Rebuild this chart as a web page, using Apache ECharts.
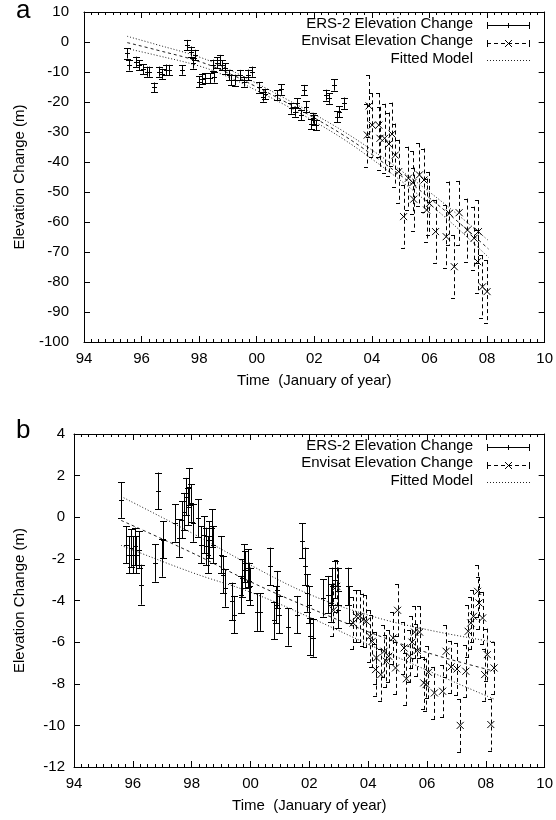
<!DOCTYPE html>
<html><head><meta charset="utf-8">
<script src="https://cdn.jsdelivr.net/npm/echarts@6/dist/echarts.min.js"></script>
<style>html,body{margin:0;padding:0;background:#fff}#c{width:556px;height:820px}</style>
</head><body><div id="c"></div>
<script>
// ---------- Panel a data ----------
const ersA_t = [1995.49,1995.58,1995.81,1995.90,1996.04,1996.18,1996.27,1996.44,1996.59,1996.70,1996.84,1996.96,1997.42,1997.59,1997.70,1997.80,1997.85,1997.99,1998.10,1998.22,1998.36,1998.47,1998.51,1998.62,1998.71,1998.79,1998.89,1999.02,1999.12,1999.25,1999.43,1999.54,1999.69,1999.83,2000.08,2000.23,2000.29,2000.69,2000.84,2001.20,2001.32,2001.41,2001.52,2001.64,2001.72,2001.89,2001.95,2002.00,2002.06,2002.40,2002.52,2002.67,2002.80,2002.86,2003.03];
const ersA_v = [-3.8,-7.7,-6.6,-7.7,-9.1,-9.9,-9.9,-15.1,-9.9,-10.6,-9.3,-9.3,-9.3,-1.0,-3.2,-7.1,-4.3,-13.2,-12.4,-12.1,-12.1,-7.7,-11.8,-6.9,-6.0,-7.7,-8.8,-11.0,-12.7,-12.7,-11.0,-13.2,-11.0,-9.9,-15.1,-18.2,-17.3,-17.7,-15.8,-22.1,-23.2,-20.4,-24.3,-16.0,-21.6,-27.3,-25.4,-26.0,-27.7,-17.7,-18.8,-14.3,-24.9,-23.2,-20.4];
const ersA_e = [1.7,1.8,1.7,1.7,1.7,1.7,1.7,1.6,1.7,1.7,1.8,1.7,1.6,1.7,1.7,1.8,1.7,1.8,1.7,1.7,1.7,1.8,1.7,1.8,1.7,1.7,1.8,1.7,1.7,1.8,1.7,1.7,1.8,1.7,1.8,1.7,1.7,1.7,1.8,1.8,1.7,1.7,1.8,1.7,1.8,1.7,1.8,1.7,1.7,1.8,1.8,1.9,1.8,1.8,1.9];
const envA_t = [2003.84,2003.90,2004.01,2004.24,2004.28,2004.44,2004.59,2004.70,2004.81,2004.93,2005.10,2005.27,2005.42,2005.45,2005.65,2005.81,2005.90,2006.00,2006.21,2006.58,2006.69,2006.86,2007.03,2007.32,2007.55,2007.67,2007.70,2007.84,2008.00];
const envA_v = [-31.0,-21.3,-27.7,-27.7,-32.1,-32.1,-34.0,-30.7,-37.7,-43.2,-58.2,-45.4,-46.9,-52.4,-44.3,-46.0,-56.0,-53.8,-63.2,-64.9,-57.1,-74.9,-56.9,-62.7,-65.4,-73.2,-63.2,-81.6,-83.2];
const envA_e = [10.5,10.3,10.6,10.6,10.5,11.5,10.5,10.5,10.5,10.6,10.6,10.5,10.5,10.5,10.5,10.5,10.5,10.5,10.6,10.5,10.6,10.5,10.6,10.5,10.5,10.5,10.5,10.5,10.5];
const fitA_t = [1995.5,1996.5,1998,1999,2000,2001,2002,2003,2004,2005,2006,2007,2008.05];
const fitA_top = [1.9,-0.8,-5.0,-9.0,-13.8,-18.9,-24.1,-29.7,-36.0,-42.8,-50.0,-57.7,-66.2];
const fitA_mid = [-0.2,-2.6,-6.5,-10.3,-15.0,-20.0,-25.3,-31.0,-37.5,-44.5,-52.0,-60.0,-69.0];
const fitA_bot = [-2.2,-4.4,-8.0,-11.6,-16.2,-21.1,-26.5,-32.3,-39.0,-46.2,-54.0,-62.3,-71.8];

// ---------- Panel b data ----------
const ersB_t = [1995.61,1995.78,1995.87,1995.95,1996.00,1996.09,1996.12,1996.20,1996.29,1996.77,1996.85,1997.00,1997.02,1997.45,1997.58,1997.67,1997.75,1997.81,1997.86,1997.90,1997.98,1998.03,1998.20,1998.31,1998.43,1998.48,1998.54,1998.59,1998.69,1998.73,1998.99,1999.07,1999.14,1999.38,1999.44,1999.67,1999.72,1999.78,1999.83,1999.92,1999.95,2000.00,2000.23,2000.31,2000.68,2000.79,2000.85,2000.90,2000.96,2001.27,2001.58,2001.75,2001.84,2001.93,2001.98,2002.03,2002.14,2002.48,2002.65,2002.72,2002.76,2002.87,2002.96,2002.99,2003.32,2003.36];
const ersB_v = [0.83,-1.32,-1.80,-1.48,-1.80,-1.40,-1.80,-1.56,-3.24,-2.20,1.27,-1.96,-1.08,-0.28,-1.00,-0.12,0.27,0.99,0.51,1.47,0.68,-0.28,-0.04,-1.32,-0.84,-1.40,-1.80,-1.08,-0.52,-1.32,-1.80,-2.76,-3.40,-4.04,-4.68,-3.72,-2.92,-2.20,-2.52,-2.44,-3.08,-3.32,-4.56,-4.56,-2.36,-4.95,-4.20,-3.48,-4.68,-5.27,-4.68,-1.13,-2.36,-3.64,-4.20,-5.72,-5.80,-3.88,-3.72,-4.12,-3.32,-3.00,-3.32,-4.44,-3.32,-4.20];
const ersB_e = [0.86,0.9,0.9,0.9,0.9,0.9,0.9,0.9,0.96,0.9,0.88,0.9,0.9,0.9,0.9,0.9,0.9,0.9,0.9,0.9,0.9,0.9,0.9,0.9,0.9,0.9,0.9,0.9,0.9,0.9,0.9,0.9,0.9,0.9,0.9,0.9,0.9,0.9,0.9,0.9,0.9,0.9,0.9,0.9,0.9,0.9,0.9,0.9,0.9,0.9,0.9,0.84,0.9,0.9,0.9,0.9,0.9,0.9,0.9,0.9,0.9,0.9,0.9,0.9,0.9,0.9];
const envB_t = [2002.82,2002.93,2003.49,2003.60,2003.72,2003.83,2003.94,2004.06,2004.14,2004.25,2004.28,2004.43,2004.54,2004.62,2004.70,2004.85,2004.93,2005.00,2005.22,2005.30,2005.41,2005.49,2005.58,2005.67,2005.75,2005.89,2005.97,2006.05,2006.25,2006.53,2006.65,2006.82,2007.02,2007.13,2007.32,2007.40,2007.49,2007.58,2007.72,2007.77,2007.89,2007.96,2008.05,2008.17,2008.28];
const envB_v = [-4.47,-3.32,-5.08,-4.76,-4.76,-4.92,-5.00,-5.72,-5.96,-7.32,-6.76,-7.56,-6.44,-6.92,-6.68,-5.80,-7.24,-4.47,-6.28,-7.76,-6.68,-6.00,-5.52,-6.40,-5.52,-7.96,-8.04,-7.45,-8.44,-8.36,-6.44,-7.19,-7.29,-10.00,-7.40,-5.48,-5.08,-4.76,-3.56,-4.12,-4.84,-7.56,-6.60,-9.96,-7.24];
const envB_e = [1.25,1.25,1.25,1.25,1.25,1.25,1.25,1.25,1.25,1.25,1.25,1.25,1.25,1.25,1.25,1.25,1.25,1.25,1.25,1.25,1.25,1.25,1.25,1.25,1.25,1.25,1.25,1.25,1.25,1.25,1.25,1.25,1.25,1.27,1.25,1.25,1.25,1.25,1.25,1.25,1.25,1.25,1.25,1.25,1.25];
const fitB_t = [1995.6,1998,2000,2002,2004,2006,2008.3];
const fitB_top = [1.0,-0.75,-2.3,-3.7,-4.7,-5.4,-6.0];
const fitB_mid = [-0.15,-1.7,-3.1,-4.35,-5.5,-6.5,-7.4];
const fitB_bot = [-1.35,-2.65,-3.6,-4.8,-6.1,-7.35,-8.75];

// ---------- tick settings ----------
const xMin = 1994, xMax = 2010, xStep = 2;
const aMin = -100, aMax = 10, aStep = 10;
const bMin = -12, bMax = 4, bStep = 2;

const FONT = 'Liberation Sans, Arial, Helvetica, sans-serif';
const FS = 15;
const zip3 = (t, v, e) => t.map((x, i) => [x, v[i], e[i]]);
const zip2 = (t, v) => t.map((x, i) => [x, v[i]]);

function errItem(dashed, mark) {
  return function (params, api) {
    const x = api.value(0), y = api.value(1), e = api.value(2);
    const c = api.coord([x, y]);
    const hi = api.coord([x, y + e]);
    const lo = api.coord([x, y - e]);
    const px = Math.round(c[0]) + 0.5;
    const cap = 3.5;
    const st = { stroke: '#000', lineWidth: 1, fill: null, lineDash: dashed ? [4, 3] : null };
    const ch = [
      { type: 'line', shape: { x1: px, y1: hi[1], x2: px, y2: lo[1] }, style: st },
      { type: 'line', shape: { x1: px - cap, y1: Math.round(hi[1]) + 0.5, x2: px + cap, y2: Math.round(hi[1]) + 0.5 }, style: st },
      { type: 'line', shape: { x1: px - cap, y1: Math.round(lo[1]) + 0.5, x2: px + cap, y2: Math.round(lo[1]) + 0.5 }, style: st }
    ];
    const ms = { stroke: '#000', lineWidth: 1, fill: null };
    if (mark === 'plus') {
      ch.push({ type: 'line', shape: { x1: px - 2.5, y1: Math.round(c[1]) + 0.5, x2: px + 2.5, y2: Math.round(c[1]) + 0.5 }, style: ms });
    } else {
      const r = 3.5;
      ch.push({ type: 'line', shape: { x1: c[0] - r, y1: c[1] - r, x2: c[0] + r, y2: c[1] + r }, style: ms });
      ch.push({ type: 'line', shape: { x1: c[0] - r, y1: c[1] + r, x2: c[0] + r, y2: c[1] - r }, style: ms });
    }
    return { type: 'group', children: ch };
  };
}

const axisLine = { show: true, onZero: false, lineStyle: { color: '#000', width: 1 } };
function xAxes(gi) {
  const base = {
    gridIndex: gi, type: 'value', min: xMin, max: xMax, interval: xStep,
    axisLine: axisLine, splitLine: { show: false },
    axisTick: { show: true, inside: true, length: 6, lineStyle: { color: '#000' } },
    minorTick: { show: true, splitNumber: 8, length: 3, lineStyle: { color: '#000' } },
    minorSplitLine: { show: false }
  };
  return [
    Object.assign({}, base, {
      position: 'bottom',
      axisLabel: { show: true, color: '#000', fontSize: FS, fontFamily: FONT, margin: 9,
        formatter: v => String(Math.round(v) % 100).padStart(2, '0') },
      name: 'Time  (January of year)', nameLocation: 'middle', nameGap: 31,
      nameTextStyle: { color: '#000', fontSize: FS, fontFamily: FONT }
    }),
    Object.assign({}, base, { position: 'top', axisLabel: { show: false } })
  ];
}
function yAxes(gi, mn, mx, st, gap, lm) {
  const base = {
    gridIndex: gi, type: 'value', min: mn, max: mx, interval: st,
    axisLine: axisLine, splitLine: { show: false },
    axisTick: { show: true, inside: true, length: 6, lineStyle: { color: '#000' } }
  };
  return [
    Object.assign({}, base, {
      position: 'left',
      axisLabel: { show: true, color: '#000', fontSize: FS, fontFamily: FONT, margin: lm },
      name: 'Elevation Change (m)', nameLocation: 'middle', nameGap: gap, nameRotate: 90,
      nameTextStyle: { color: '#000', fontSize: FS, fontFamily: FONT }
    }),
    Object.assign({}, base, { position: 'right', axisLabel: { show: false } })
  ];
}

function fitSeries(xi, yi, data, dash) {
  return { type: 'line', xAxisIndex: xi, yAxisIndex: yi, data: data, smooth: 0.4, showSymbol: false, symbol: 'none',
    lineStyle: { color: '#222', width: 1, type: dash }, z: 1, silent: true, animation: false };
}

// legend graphic
function legend(yTop) {
  const els = [];
  const labels = ['ERS-2 Elevation Change', 'Envisat Elevation Change', 'Fitted Model'];
  const x1 = 487, x2 = 530;
  labels.forEach((t, i) => {
    const y = yTop + i * 17.5;
    els.push({ type: 'text', right: 556 - 473, top: y - 9, style: { text: t, fill: '#000', font: FS + 'px ' + FONT, textAlign: 'right' } });
    const yy = Math.round(y) + 0.5;
    if (i === 0) {
      els.push({ type: 'line', shape: { x1: x1, y1: yy, x2: x2, y2: yy }, style: { stroke: '#000', lineWidth: 1 } });
      els.push({ type: 'line', shape: { x1: x1 + 0.5, y1: yy - 3.5, x2: x1 + 0.5, y2: yy + 3.5 }, style: { stroke: '#000', lineWidth: 1 } });
      els.push({ type: 'line', shape: { x1: x2 - 0.5, y1: yy - 3.5, x2: x2 - 0.5, y2: yy + 3.5 }, style: { stroke: '#000', lineWidth: 1 } });
      els.push({ type: 'line', shape: { x1: 508.5, y1: yy - 2.5, x2: 508.5, y2: yy + 2.5 }, style: { stroke: '#000', lineWidth: 1 } });
    } else if (i === 1) {
      els.push({ type: 'line', shape: { x1: x1, y1: yy, x2: x2, y2: yy }, style: { stroke: '#000', lineWidth: 1, lineDash: [4, 3] } });
      els.push({ type: 'line', shape: { x1: x1 + 0.5, y1: yy - 3.5, x2: x1 + 0.5, y2: yy + 3.5 }, style: { stroke: '#000', lineWidth: 1 } });
      els.push({ type: 'line', shape: { x1: x2 - 0.5, y1: yy - 3.5, x2: x2 - 0.5, y2: yy + 3.5 }, style: { stroke: '#000', lineWidth: 1 } });
      els.push({ type: 'line', shape: { x1: 505, y1: yy - 3.5, x2: 512, y2: yy + 3.5 }, style: { stroke: '#000', lineWidth: 1 } });
      els.push({ type: 'line', shape: { x1: 505, y1: yy + 3.5, x2: 512, y2: yy - 3.5 }, style: { stroke: '#000', lineWidth: 1 } });
    } else {
      els.push({ type: 'line', shape: { x1: x1, y1: yy, x2: x2, y2: yy }, style: { stroke: '#222', lineWidth: 1, lineDash: [1, 2] } });
    }
  });
  return els;
}

const chart = echarts.init(document.getElementById('c'), null, { renderer: 'canvas' });
const option = {
  animation: false,
  backgroundColor: '#fff',
  grid: [
    { left: 84, top: 12, width: 463, height: 330 },
    { left: 74, top: 434, width: 473, height: 333 }
  ],
  xAxis: [].concat(xAxes(0), xAxes(1)),
  yAxis: [].concat(yAxes(0, aMin, aMax, aStep, 57, 15), yAxes(1, bMin, bMax, bStep, 47, 9)),
  series: [
    fitSeries(0, 0, zip2(fitA_t, fitA_top), [1, 2]),
    fitSeries(0, 0, zip2(fitA_t, fitA_mid), [3, 3]),
    fitSeries(0, 0, zip2(fitA_t, fitA_bot), [1, 2]),
    { type: 'custom', xAxisIndex: 0, yAxisIndex: 0, renderItem: errItem(false, 'plus'), data: zip3(ersA_t, ersA_v, ersA_e), clip: true, z: 3 },
    { type: 'custom', xAxisIndex: 0, yAxisIndex: 0, renderItem: errItem(true, 'x'), data: zip3(envA_t, envA_v, envA_e), clip: true, z: 2 },
    fitSeries(2, 2, zip2(fitB_t, fitB_top), [1, 2]),
    fitSeries(2, 2, zip2(fitB_t, fitB_mid), [3, 3]),
    fitSeries(2, 2, zip2(fitB_t, fitB_bot), [1, 2]),
    { type: 'custom', xAxisIndex: 2, yAxisIndex: 2, renderItem: errItem(false, 'plus'), data: zip3(ersB_t, ersB_v, ersB_e), clip: true, z: 3 },
    { type: 'custom', xAxisIndex: 2, yAxisIndex: 2, renderItem: errItem(true, 'x'), data: zip3(envB_t, envB_v, envB_e), clip: true, z: 2 }
  ],
  graphic: [
    { type: 'text', left: 16, top: -2, style: { text: 'a', fill: '#000', font: '26px ' + FONT } },
    { type: 'text', left: 16, top: 418, style: { text: 'b', fill: '#000', font: '26px ' + FONT } }
  ].concat(legend(25), legend(447))
};
chart.setOption(option);
</script>
</body></html>
